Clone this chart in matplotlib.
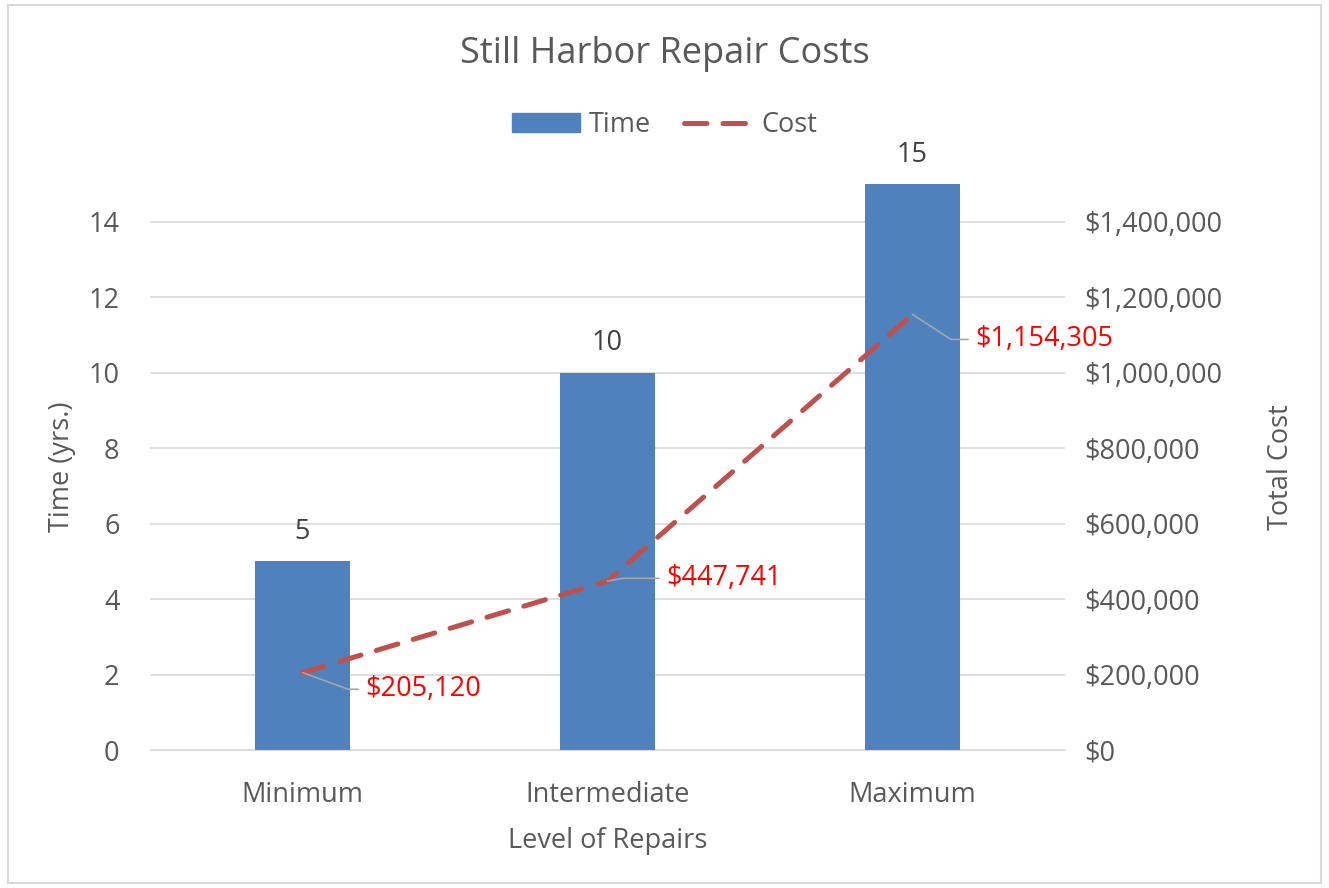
import matplotlib

matplotlib.use("Agg")
import matplotlib.pyplot as plt
from matplotlib.lines import Line2D
from matplotlib.patches import Patch, Rectangle
import numpy as np

LEVELS = ["Minimum", "Intermediate", "Maximum"]
TIME_YRS = [5, 10, 15]
COST = [205120, 447741, 1154305]
TIME_TICKS = [0, 2, 4, 6, 8, 10, 12, 14]
COST_TICKS = [0, 200000, 400000, 600000, 800000, 1000000, 1200000, 1400000]

BAR = "#4f81bd"
LINE = "#c0504d"
TXT = "#595959"
GRID = "#d9d9d9"
FS = 19.5

plt.rcParams["font.family"] = ["Open Sans", "DejaVu Sans"]

fig = plt.figure(figsize=(13.29, 8.88), dpi=100)
fig.patches.append(Rectangle((0.006, 0.006), 0.988, 0.988, transform=fig.transFigure,
                             fill=False, edgecolor="#d9d9d9", lw=1.5))
ax = fig.add_axes([0.1129, 0.1554, 0.6885, 0.6374])
ax2 = ax.twinx()

x = np.arange(len(LEVELS))
ax.bar(x, TIME_YRS, width=0.31, color=BAR, zorder=2)
for xi, v in zip(x, TIME_YRS):
    ax.annotate(f"{v}", (xi, v), xytext=(0, 21), textcoords="offset points",
                ha="center", va="center", fontsize=FS, color="#404040")

ax.set_xlim(-0.5, 2.5)
ax.set_ylim(0, 15)
ax.set_yticks(TIME_TICKS)
ax.set_xticks(x)
ax.set_xticklabels(LEVELS)
ax.grid(axis="y", color=GRID, lw=1.2, zorder=0)
ax.set_axisbelow(True)
for s in ax.spines.values():
    s.set_visible(False)
ax.spines["bottom"].set_visible(True)
ax.spines["bottom"].set_color(GRID)
ax.tick_params(axis="both", length=0, colors=TXT, labelsize=FS)
ax.tick_params(axis="y", pad=22)
ax.tick_params(axis="x", pad=22)
ax.set_ylabel("Time (yrs.)", fontsize=FS, color=TXT, labelpad=9)
ax.set_xlabel("Level of Repairs", fontsize=FS, color=TXT, labelpad=13)

ax2.plot(x, COST, color=LINE, lw=3.6, ls=(0, (4.5, 3.2)), solid_capstyle="round",
         dash_capstyle="round", zorder=3)
ax2.set_ylim(0, 1500000)
ax2.set_yticks(COST_TICKS)
ax2.set_yticklabels([f"${v:,.0f}" for v in COST_TICKS])
for s in ax2.spines.values():
    s.set_visible(False)
ax2.tick_params(axis="y", length=0, colors=TXT, labelsize=FS, pad=14)
ax2.set_ylabel("Total Cost", fontsize=FS, color=TXT, labelpad=32)

label_offsets = [(45, -12), (42, 2), (45, -18)]
label_angles = [-20, 10, -33]
for xi, c, off, ang in zip(x, COST, label_offsets, label_angles):
    ax2.annotate(f"${c:,.0f}", (xi, c), xytext=off, textcoords="offset points",
                 ha="left", va="center", fontsize=FS, color="#ff0000",
                 arrowprops=dict(arrowstyle="-", color="#a6a6a6", lw=1.2,
                                 shrinkA=3, shrinkB=0, relpos=(0, 0.5),
                                 connectionstyle=f"angle,angleA=0,angleB={ang},rad=0"))

handles = [Patch(color=BAR, label="Time"),
           Line2D([0], [0], color=LINE, lw=3.6, ls=(0, (4.5, 3.2)),
                  dash_capstyle="round", label="Cost")]
fig.legend(handles=handles, loc="center", bbox_to_anchor=(0.5, 0.859), ncol=2,
           frameon=False, fontsize=FS, labelcolor=TXT, handlelength=2.5,
           columnspacing=1.2, handletextpad=0.35)

fig.text(0.5, 0.939, "Still Harbor Repair Costs", ha="center", va="center",
         fontsize=26, color=TXT)

fig.savefig("out.png", dpi=100)
